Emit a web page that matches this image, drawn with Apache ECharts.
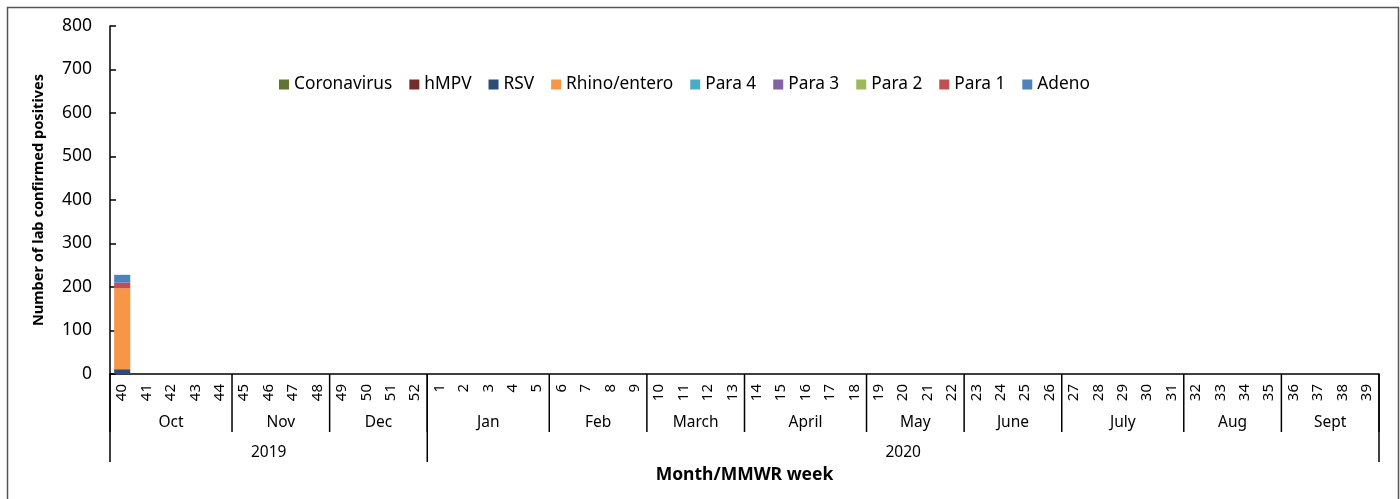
<!DOCTYPE html>
<html>
<head>
<meta charset="utf-8">
<script src="https://cdn.jsdelivr.net/npm/echarts@6/dist/echarts.min.js"></script>
<style>
  html, body { margin: 0; padding: 0; background: #fff; }
  #chart { width: 1400px; height: 499px; }
</style>
</head>
<body>
<div id="chart"></div>
<script>
// MMWR weeks, 2019 week 40 to 2020 week 39
const weeks = ['40', '41', '42', '43', '44', '45', '46', '47', '48', '49', '50', '51', '52',
  '1', '2', '3', '4', '5', '6', '7', '8', '9', '10', '11', '12', '13', '14', '15', '16', '17', '18',
  '19', '20', '21', '22', '23', '24', '25', '26', '27', '28', '29', '30', '31', '32', '33', '34', '35',
  '36', '37', '38', '39'];
const months = ['Oct', 'Nov', 'Dec', 'Jan', 'Feb', 'March', 'April', 'May', 'June', 'July', 'Aug', 'Sept'];
const monthWeeks = [5, 4, 4, 5, 4, 4, 5, 4, 4, 5, 4, 4];
const years = ['2019', '2020'];
const yearWeeks = [13, 39];
const yTicks = [0, 100, 200, 300, 400, 500, 600, 700, 800];

// only week 40 reported so far
const coronavirus = [0];
const hmpv = [0];
const rsv = [11];
const rhino = [186];
const para4 = [0];
const para3 = [0];
const para2 = [0];
const para1 = [13];
const adeno = [18];

const seriesNames = ['Coronavirus', 'hMPV', 'RSV', 'Rhino/entero', 'Para 4', 'Para 3', 'Para 2', 'Para 1', 'Adeno'];
const seriesData = [coronavirus, hmpv, rsv, rhino, para4, para3, para2, para1, adeno];
const colors = ['#5f7530', '#772c2a', '#2c4d75', '#f79646', '#4bacc6', '#8064a2', '#9bbb59', '#c0504d', '#4f81bd'];

const font = 'Noto Sans';
const chart = echarts.init(document.getElementById('chart'));

const option = {
  animation: false,
  color: colors,
  textStyle: { fontFamily: font },
  grid: { left: 110, right: 21, top: 26, bottom: 125 },
  legend: {
    left: 274,
    top: 71,
    itemWidth: 10,
    itemHeight: 10,
    itemGap: 17,
    icon: 'rect',
    textStyle: { fontSize: 17.3, color: '#000', fontFamily: font },
    data: seriesNames
  },
  xAxis: {
    type: 'category',
    data: weeks,
    name: 'Month/MMWR week',
    nameLocation: 'middle',
    nameGap: 92,
    nameTextStyle: { fontSize: 17.5, fontWeight: 'bold', color: '#000' },
    axisLine: { lineStyle: { color: '#000', width: 1.5 } },
    axisTick: { length: 28, interval: 0, lineStyle: { color: '#000', width: 1.5 } },
    axisLabel: { rotate: 90, interval: 0, margin: 10, fontSize: 15, color: '#000' }
  },
  yAxis: {
    type: 'value',
    min: yTicks[0],
    max: yTicks[yTicks.length - 1],
    interval: 100,
    name: 'Number of lab confirmed positives',
    nameLocation: 'middle',
    nameGap: 64,
    nameTextStyle: { fontSize: 14.6, fontWeight: 'bold', color: '#000' },
    axisLine: { show: true, lineStyle: { color: '#000', width: 1.5 } },
    axisTick: { show: true, inside: true, length: 6, lineStyle: { color: '#000', width: 1.5 } },
    axisLabel: { fontSize: 17.5, color: '#000', margin: 18 },
    splitLine: { show: false }
  },
  series: seriesNames.map((name, i) => ({
    name: name,
    type: 'bar',
    stack: 'total',
    barWidth: '66%',
    data: seriesData[i]
  }))
};
chart.setOption(option);

// month and year rows under the week labels
const c0 = chart.convertToPixel({ xAxisIndex: 0 }, 0);
const band = chart.convertToPixel({ xAxisIndex: 0 }, 1) - c0;
const edge = i => c0 - band / 2 + i * band;
const base = chart.convertToPixel({ yAxisIndex: 0 }, 0);

const g = [];
function rowGroups(names, counts, lineLen, textY) {
  let at = 0;
  g.push({ type: 'line', shape: { x1: edge(0), y1: base, x2: edge(0), y2: base + lineLen }, style: { stroke: '#000', lineWidth: 1.5 } });
  names.forEach((n, k) => {
    const start = at;
    at += counts[k];
    g.push({ type: 'line', shape: { x1: edge(at), y1: base, x2: edge(at), y2: base + lineLen }, style: { stroke: '#000', lineWidth: 1.5 } });
    g.push({
      type: 'text', x: (edge(start) + edge(at)) / 2, y: base + textY,
      style: { text: n, fill: '#000', font: '15.5px "Noto Sans"', textAlign: 'center', textVerticalAlign: 'middle' }
    });
  });
}
rowGroups(months, monthWeeks, 58, 49);
rowGroups(years, yearWeeks, 88, 79);

// chart area border
g.push({ type: 'rect', shape: { x: 7.5, y: 7.5, width: 1391, height: 520 }, style: { fill: 'none', stroke: '#555', lineWidth: 1.5 } });

chart.setOption({ graphic: g });
</script>
</body>
</html>
